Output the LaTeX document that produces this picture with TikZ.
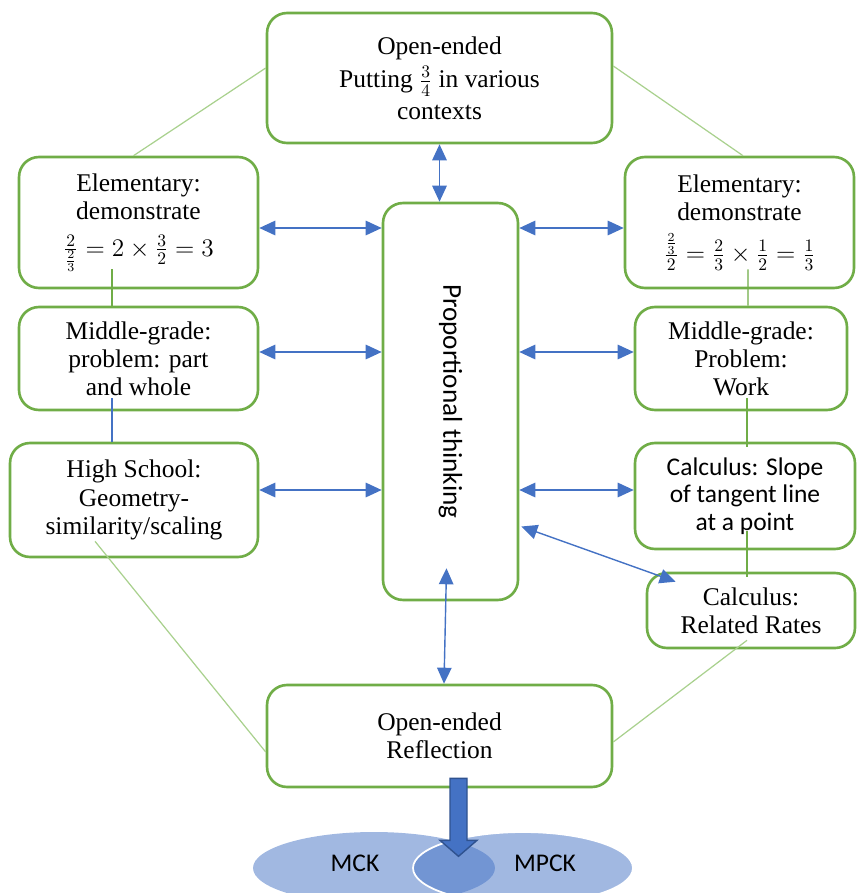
\documentclass[tikz,border=0pt]{standalone}
\usepackage{fontspec}
\usepackage{graphicx}
\setmainfont{Liberation Serif}
\newfontfamily\calibri{Carlito}
\usetikzlibrary{arrows.meta,calc,shapes.geometric}
\definecolor{boxgreen}{HTML}{70AD47}
\definecolor{linegreen}{HTML}{A9D18E}
\definecolor{arrowblue}{HTML}{4472C4}
\definecolor{darkblue}{HTML}{2F528F}
\tikzset{
  box/.style={draw=boxgreen, line width=1.5pt, rounded corners=0.4cm, fill=white,
    align=center, inner sep=2pt, font=\fontsize{14.5}{16}\selectfont},
  link/.style={linegreen, line width=0.7pt},
  vlink/.style={boxgreen, line width=0.8pt},
  biarrow/.style={arrowblue, line width=0.8pt,
    {Triangle[length=3.2mm,width=2.9mm]}-{Triangle[length=3.2mm,width=2.9mm]}},
  blob/.style={ellipse, fill=arrowblue, fill opacity=0.5, minimum height=1.44cm},
}
\begin{document}
\begin{tikzpicture}[x=0.02cm, y=-0.02cm]
\useasboundingbox (0,0) rectangle (856,893);
\node[box, minimum width=6.9cm, minimum height=2.6cm] (top) at (439.5,78)
  {Open-ended\\[3pt]Putting $\frac{3}{4}$ in various\\[2pt]contexts};
\node[box, minimum width=4.78cm, minimum height=2.62cm] (lelem) at (138.5,222.5)
  {Elementary:\\demonstrate\\[5pt]$\frac{2}{\frac{2}{3}}=2\times\frac{3}{2}=3$};
\node[box, minimum width=4.58cm, minimum height=2.62cm] (relem) at (739.5,222.5)
  {Elementary:\\demonstrate\\[6pt]$\frac{\frac{2}{3}}{2}=\frac{2}{3}\times\frac{1}{2}=\frac{1}{3}$};
\node[box, minimum width=4.78cm, minimum height=2.06cm] (lmid) at (138.5,358.5)
  {Middle-grade:\\problem: part\\and whole};
\node[box, minimum width=4.24cm, minimum height=2.06cm] (rmid) at (741,358.5)
  {Middle-grade:\\Problem:\\Work};
\node[box, minimum width=4.96cm, minimum height=2.28cm] (hs) at (134,500)
  {High School:\\Geometry-\\similarity/scaling};
\node[box, minimum width=4.4cm, minimum height=2.12cm, font=\fontsize{14.5}{15.5}\calibri] (calc) at (745,496)
  {Calculus: Slope\\of tangent line\\at a point};
\node[box, minimum width=4.16cm, minimum height=1.5cm] (rr) at (751,610.5)
  {Calculus:\\Related Rates};
\node[box, minimum width=2.7cm, minimum height=7.94cm] (center) at (450.5,401.5)
  {\rotatebox{-90}{\fontsize{15.5}{18}\calibri Proportional thinking}};
\node[box, minimum width=6.9cm, minimum height=2.04cm] (refl) at (439.5,736)
  {Open-ended\\Reflection};
\draw[link] ($(top.west)+(0,-10)$) -- ($(lelem.north)+(-5,0)$);
\draw[link] ($(top.east)+(0,-12)$) -- ($(relem.north)+(3.5,0)$);
\draw[vlink] ($(lelem.south)+(-26.5,-20)$) -- ($(lmid.north)+(-26.5,0)$);
\draw[arrowblue, line width=0.8pt] ($(lmid.south)+(-26.5,-13)$) -- ($(hs.north)+(-22,0)$);
\draw[link] ($(hs.south)+(-39,-17)$) -- ($(refl.west)+(0,16)$);
\draw[vlink] ($(relem.south)+(8.5,-20)$) -- ($(rmid.north)+(7,0)$);
\draw[vlink] ($(rmid.south)+(6,-13)$) -- ($(calc.north)+(2,5)$);
\draw[vlink] ($(calc.south)+(2,-19)$) -- ($(rr.north)+(-4,5)$);
\draw[link] ($(rr.south)+(-4,-9)$) -- ($(refl.east)+(0,6)$);
\foreach \l/\r/\y in {lelem/relem/228, lmid/rmid/352, hs/calc/490}
{
    \draw[biarrow] (\l.east |- 0,\y) -- (center.west |- 0,\y);
    \draw[biarrow] (center.east |- 0,\y) -- (\r.west |- 0,\y);
}
\draw[biarrow] (top.south) -- (top.south |- center.north);
\draw[biarrow] ($(center.south)+(-4,-33)$) -- ($(refl.north)+(4.5,0)$);
\draw[biarrow] ($(center.east)+(2,125)$) -- ($(rr.north west)+(30,10)$);
\node[blob, minimum width=4.84cm] (mck) at (374,868) {};
\node[blob, minimum width=4.4cm, draw=white, line width=1pt] (mpck) at (523,868) {};
\draw[darkblue, fill=arrowblue, line width=0.8pt]
  ($(refl.south)+(10.5,-10)$) -- ++(17,0) -- ++(0,62) -- ++(10,0) -- ++(-18.5,16)
  -- ++(-18.5,-16) -- ++(10,0) -- cycle;
\node[font=\fontsize{14.5}{16}\calibri] (mcktext) at (355,863) {MCK};
\node[font=\fontsize{14.5}{16}\calibri] (mpcktext) at (545,863) {MPCK};
\end{tikzpicture}
\end{document}
